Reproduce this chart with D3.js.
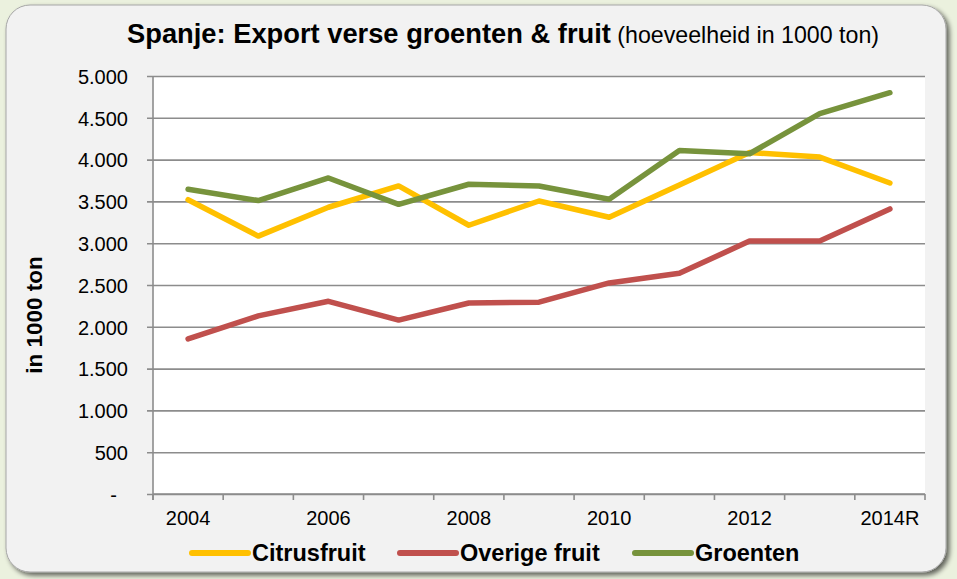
<!DOCTYPE html>
<html>
<head>
<meta charset="utf-8">
<script src="https://cdn.jsdelivr.net/npm/d3@7"></script>
<style>
  html, body { margin: 0; padding: 0; background: #ebf1de; }
  svg { display: block; font-family: "Liberation Sans", Arial, sans-serif; }
</style>
</head>
<body>
<svg id="chart" width="957" height="579"></svg>
<script>
// data (in 1000 ton)
var years = ["2004", "2005", "2006", "2007", "2008", "2009", "2010", "2011", "2012", "2013", "2014R"];
var citrus = [3520, 3085, 3430, 3685, 3215, 3505, 3310, 3695, 4085, 4030, 3720];
var overig = [1855, 2130, 2305, 2080, 2285, 2295, 2525, 2640, 3025, 3025, 3410];
var groenten = [3645, 3510, 3780, 3465, 3705, 3685, 3525, 4110, 4070, 4550, 4800];
var yTicks = [0, 500, 1000, 1500, 2000, 2500, 3000, 3500, 4000, 4500, 5000];

var series = [
  { name: "Citrusfruit", values: citrus, color: "#ffc000" },
  { name: "Overige fruit", values: overig, color: "#c0504d" },
  { name: "Groenten", values: groenten, color: "#77933c" }
];

var svg = d3.select("#chart");
var plot = { left: 153, right: 925, top: 76, bottom: 494 };

var nl = d3.formatLocale({ decimal: ",", thousands: ".", grouping: [3], currency: ["€", ""] });
var fmt = nl.format(",.0f");

// background panel with shadow
var defs = svg.append("defs");
var f = defs.append("filter").attr("id", "shadow").attr("x", "-5%").attr("y", "-5%").attr("width", "110%").attr("height", "110%");
f.append("feGaussianBlur").attr("in", "SourceAlpha").attr("stdDeviation", 2.5);
f.append("feOffset").attr("dx", 3).attr("dy", 3).attr("result", "b");
f.append("feComponentTransfer").append("feFuncA").attr("type", "linear").attr("slope", 0.6);
var m = f.append("feMerge");
m.append("feMergeNode");
m.append("feMergeNode").attr("in", "SourceGraphic");

svg.append("rect")
  .attr("x", 6).attr("y", 5)
  .attr("width", 940).attr("height", 567)
  .attr("rx", 24)
  .attr("fill", "#f2f2f2")
  .attr("stroke", "#a6a6a6")
  .attr("stroke-width", 1)
  .attr("filter", "url(#shadow)");

var x = d3.scaleBand().domain(years).range([plot.left, plot.right]).padding(0);
var y = d3.scaleLinear().domain([0, 5000]).range([plot.bottom, plot.top]);

// plot area
svg.append("rect")
  .attr("x", plot.left).attr("y", plot.top)
  .attr("width", plot.right - plot.left).attr("height", plot.bottom - plot.top)
  .attr("fill", "#ffffff");

// gridlines + y axis
var yAxis = d3.axisLeft(y)
  .tickValues(yTicks)
  .tickSize(-(plot.right - plot.left) - 6)
  .tickPadding(19)
  .tickFormat(function (d) { return d === 0 ? "-" : fmt(d); });

var gy = svg.append("g")
  .attr("transform", "translate(" + plot.left + ",0)")
  .call(yAxis);
gy.select(".domain").remove();
gy.selectAll(".tick line")
  .attr("x1", -6)
  .attr("x2", plot.right - plot.left)
  .attr("stroke", "#8c8c8c")
  .attr("stroke-width", 1.6);
gy.selectAll(".tick text")
  .attr("fill", "#000")
  .style("font-size", "20px")
  .attr("x", -25)
  .attr("dy", "0.36em");
gy.selectAll(".tick text").filter(function (d) { return d === 0; }).attr("x", -36);

// y axis line
svg.append("line")
  .attr("x1", plot.left).attr("x2", plot.left)
  .attr("y1", plot.top).attr("y2", plot.bottom + 6)
  .attr("stroke", "#8c8c8c").attr("stroke-width", 1.6);

// x axis
var xAxis = d3.axisBottom(x)
  .tickSize(0)
  .tickPadding(17)
  .tickFormat(function (d, i) { return i % 2 === 0 ? d : ""; });
var gx = svg.append("g")
  .attr("transform", "translate(0," + plot.bottom + ")")
  .call(xAxis);
gx.select(".domain").remove();
gx.selectAll(".tick text").attr("fill", "#000").style("font-size", "20px");

var bounds = years.map(function (d) { return x(d); }).concat([x.range()[1]]);
svg.append("g").selectAll("line")
  .data(bounds)
  .enter().append("line")
  .attr("x1", function (d) { return d; }).attr("x2", function (d) { return d; })
  .attr("y1", plot.bottom).attr("y2", plot.bottom + 6)
  .attr("stroke", "#8c8c8c").attr("stroke-width", 1.6);
svg.append("line")
  .attr("x1", plot.left).attr("x2", plot.right)
  .attr("y1", plot.bottom).attr("y2", plot.bottom)
  .attr("stroke", "#8c8c8c").attr("stroke-width", 1.6);

// lines
var line = d3.line()
  .x(function (d, i) { return x(years[i]) + x.bandwidth() / 2; })
  .y(function (d) { return y(d); });

svg.append("g").selectAll("path")
  .data(series)
  .enter().append("path")
  .attr("d", function (s) { return line(s.values); })
  .attr("fill", "none")
  .attr("stroke", function (s) { return s.color; })
  .attr("stroke-width", 5.5)
  .attr("stroke-linecap", "round")
  .attr("stroke-linejoin", "round");

// title
var title = svg.append("text")
  .attr("x", 503).attr("y", 43)
  .attr("text-anchor", "middle")
  .attr("fill", "#000");
title.append("tspan").style("font-weight", "bold").style("font-size", "27.3px").text("Spanje: Export verse groenten & fruit");
title.append("tspan").style("font-size", "23.2px").text(" (hoeveelheid in 1000 ton)");

// y label
svg.append("text")
  .attr("transform", "translate(42,315) rotate(-90)")
  .attr("text-anchor", "middle")
  .style("font-weight", "bold")
  .style("font-size", "22.5px")
  .attr("fill", "#000")
  .text("in 1000 ton");

// legend
var legendX = [192, 400, 635];
var lg = svg.append("g").selectAll("g")
  .data(series)
  .enter().append("g")
  .attr("transform", function (d, i) { return "translate(" + legendX[i] + ",553)"; });
lg.append("line")
  .attr("x1", 0).attr("x2", 56)
  .attr("stroke", function (d) { return d.color; })
  .attr("stroke-width", 6)
  .attr("stroke-linecap", "round");
lg.append("text")
  .attr("x", 60).attr("dy", "0.36em")
  .style("font-weight", "bold")
  .style("font-size", "23.5px")
  .attr("fill", "#000")
  .text(function (d) { return d.name; });
</script>
</body>
</html>
